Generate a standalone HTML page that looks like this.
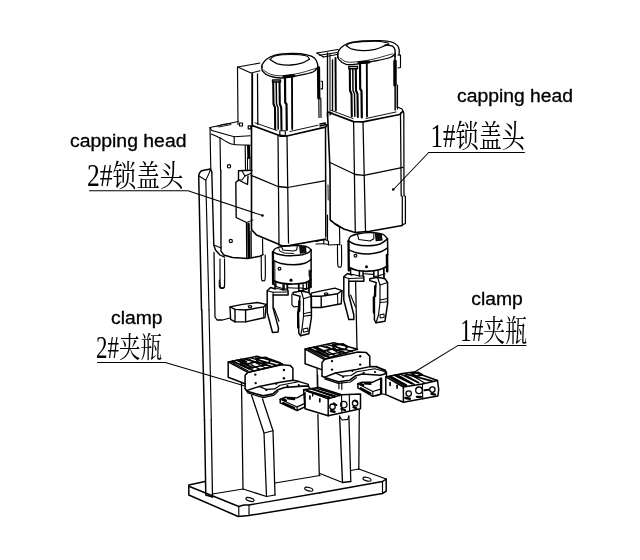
<!DOCTYPE html>
<html><head><meta charset="utf-8"><title>Capping head and clamp</title>
<style>
html,body{margin:0;padding:0;background:#fff;}
svg{display:block;will-change:transform}
.en{font-family:"Liberation Sans",sans-serif;fill:#000;stroke:#000;stroke-width:0.3px}
.cn{font-family:"Liberation Serif","Noto Serif CJK SC",serif;fill:#000}
</style></head>
<body>
<svg width="640" height="560" viewBox="0 0 640 560">
<rect width="640" height="560" fill="#fff"/>
<g fill="none" stroke="#000" stroke-width="1.15" stroke-linecap="round" stroke-linejoin="round">
<path d="M89.5 190.7 L188.0 190.7 L262.5 215.5" stroke-width="1.03"/>
<path d="M428.7 152.5 L524.5 152.5" stroke-width="1.03"/>
<path d="M428.7 152.5 L393.5 189.5" stroke-width="1.03"/>
<path d="M97.4 362.4 L165.3 362.4 L245.0 386.0" stroke-width="1.03"/>
<path d="M457.8 345.6 L526.0 345.6" stroke-width="1.03"/>
<path d="M457.8 345.6 L413.0 373.0" stroke-width="1.03"/>
<path d="M238.0 124.5 L237.5 67.0 L260.0 63.0"/>
<path d="M237.5 67.0 L251.0 73.0 L260.0 70.8"/>
<path d="M252.2 73.8 L252.2 126.2" stroke-width="1.84"/>
<path d="M257.5 74.0 L257.8 124.5" stroke-width="1.26"/>
<path d="M239.5 123.0 L242.5 123.0 L242.5 126.0 L239.5 126.0 Z"/>
<path d="M248.2 125.8 L250.8 125.8 L250.8 128.8 L248.2 128.8 Z"/>
<path d="M262.0 67.5 C262.0 67.1 261.3 66.3 262.0 65.0 C262.7 63.7 264.1 61.1 266.2 59.5 C268.4 57.9 270.8 56.2 275.0 55.2 C279.2 54.2 285.9 53.6 291.2 53.5 C296.6 53.4 303.1 54.0 307.0 54.8 C310.9 55.5 312.8 56.5 314.5 58.0 C316.2 59.5 316.9 61.8 317.5 63.8 C318.1 65.8 317.9 69.0 318.0 70.0" stroke-width="1.32"/>
<path d="M270.0 59.5 C270.8 58.9 271.5 56.8 275.0 56.0 C278.5 55.2 286.1 54.5 291.2 54.5 C296.4 54.5 302.7 55.0 305.8 55.8 C308.8 56.5 308.9 58.7 309.5 59.2" stroke-width="1.03"/>
<path d="M270.0 59.5 C271.2 60.2 274.0 62.8 277.5 63.8 C281.0 64.7 287.1 65.2 291.2 65.0 C295.4 64.8 299.5 63.7 302.5 62.8 C305.5 61.8 308.3 59.8 309.5 59.2" stroke-width="1.26"/>
<path d="M262.0 65.8 C262.1 66.7 261.2 69.5 262.5 71.2 C263.8 73.0 266.7 75.1 270.0 76.2 C273.3 77.4 277.5 78.2 282.5 78.0 C287.5 77.8 294.9 76.2 300.0 75.2 C305.1 74.2 310.1 73.3 313.0 72.0 C315.9 70.7 316.8 68.2 317.5 67.5" stroke-width="1.32"/>
<path d="M263.5 70.0 C264.7 70.7 267.3 73.3 270.5 74.2 C273.7 75.2 277.6 76.0 282.5 75.8 C287.4 75.5 294.5 74.2 300.0 73.0 C305.5 71.8 312.9 69.2 315.5 68.5" stroke-width="0.805"/>
<path d="M272.5 80.0 L280.5 80.0 L280.5 82.0 L272.5 82.0 Z" stroke-width="1.38"/>
<path d="M273.2 82.0 L273.5 104.0 L275.0 107.5 L275.2 129.0" stroke-width="2.07"/>
<path d="M276.2 82.0 L276.5 104.0 L278.0 107.5 L278.2 129.0" stroke-width="1.49"/>
<path d="M279.5 82.0 L279.8 104.0 L281.2 107.5 L281.5 129.5" stroke-width="2.07"/>
<path d="M285.0 77.5 L285.2 102.5 L286.5 104.2 L286.8 130.0" stroke-width="2.18"/>
<path d="M292.0 77.5 L292.2 129.0" stroke-width="1.84"/>
<path d="M283.8 76.5 L294.0 75.8" stroke-width="2.88"/>
<path d="M252.5 125.6 L278.0 135.0 L287.0 136.0 L325.3 127.2 L327.3 124.8" stroke-width="1.72"/>
<path d="M255.0 122.8 L277.0 130.5" stroke-width="0.92"/>
<path d="M290.0 131.5 L318.0 125.2" stroke-width="0.92"/>
<path d="M279.8 130.7 L285.3 130.7 L285.3 136.5 L279.8 136.5 Z"/>
<path d="M210.0 127.5 L238.2 121.5"/>
<path d="M210.0 127.5 L211.8 130.5 L234.2 136.8 L250.2 135.8"/>
<path d="M217.0 126.5 L222.5 124.5 L230.5 123.5" stroke-width="0.92"/>
<path d="M219.0 127.0 L231.0 124.5" stroke-width="0.92"/>
<path d="M210.0 127.5 L210.8 170.0"/>
<path d="M234.2 136.8 L234.2 144.5"/>
<path d="M211.0 134.0 C212.5 134.6 217.1 136.4 219.8 137.8 C222.4 139.1 224.6 140.9 227.0 142.0 C229.4 143.1 230.4 144.0 234.2 144.5 C238.1 145.0 247.6 145.1 250.2 145.2"/>
<path d="M220.0 138.0 L220.5 170.0"/>
<path d="M245.2 145.5 L245.5 170.0"/>
<path d="M248.5 146.2 L248.8 157.5" stroke-width="2.99"/>
<path d="M247.5 157.5 L247.5 169.5" stroke-width="1.03"/>
<path d="M250.0 157.5 L250.0 169.5" stroke-width="1.03"/>
<path d="M337.8 57.5 C337.8 56.8 337.2 54.7 337.8 53.0 C338.3 51.3 339.4 49.1 341.2 47.5 C343.1 45.9 345.2 44.2 348.8 43.1 C352.3 42.0 357.3 41.4 362.5 41.0 C367.7 40.6 375.2 40.5 380.0 40.6 C384.8 40.8 388.3 41.0 391.2 41.9 C394.2 42.7 396.2 44.3 397.5 45.6 C398.8 47.0 399.0 48.4 399.2 50.0 C399.5 51.6 399.0 54.2 399.0 55.0" stroke-width="1.32"/>
<path d="M346.2 45.6 C346.9 45.2 347.3 43.9 350.0 43.2 C352.7 42.6 357.5 42.0 362.5 41.8 C367.5 41.5 375.6 41.2 380.0 41.5 C384.4 41.8 387.3 43.0 388.8 43.2" stroke-width="1.03"/>
<path d="M385.0 45.0 C386.2 45.2 390.8 45.4 392.5 46.2 C394.2 47.1 394.6 48.2 395.0 50.0 C395.4 51.8 395.0 55.6 395.0 56.8" stroke-width="1.38"/>
<path d="M346.2 45.6 C347.1 46.1 348.5 47.9 351.2 48.8 C354.0 49.6 358.5 50.5 362.5 50.6 C366.5 50.7 371.5 50.1 375.0 49.4 C378.5 48.6 381.5 47.1 383.8 46.2 C386.0 45.4 387.9 44.4 388.8 44.0" stroke-width="1.26"/>
<path d="M337.8 53.1 C337.9 54.2 337.3 57.5 338.8 59.4 C340.2 61.2 342.9 63.6 346.2 64.4 C349.6 65.1 354.2 64.3 358.8 63.8 C363.3 63.2 368.5 62.3 373.8 61.2 C379.0 60.2 386.5 58.8 390.0 57.5 C393.5 56.2 394.2 54.4 395.0 53.8" stroke-width="1.32"/>
<path d="M340.0 58.0 C341.2 58.7 343.9 61.4 347.0 62.0 C350.1 62.6 354.3 62.0 358.8 61.5 C363.2 61.0 368.1 60.3 373.8 59.0 C379.4 57.7 389.4 54.6 392.5 53.8" stroke-width="0.805"/>
<path d="M335.5 58.0 L335.8 110.5" stroke-width="1.95"/>
<path d="M332.5 60.0 L332.5 110.5" stroke-width="1.38"/>
<path d="M348.8 66.5 L357.5 66.5 L357.5 68.8 L348.8 68.8 Z" stroke-width="1.38"/>
<path d="M349.8 68.8 L350.0 90.5 L351.5 94.0 L351.8 116.2" stroke-width="2.07"/>
<path d="M352.8 68.8 L353.0 90.5 L354.5 94.0 L354.8 116.2" stroke-width="1.49"/>
<path d="M355.8 68.8 L356.0 90.5 L357.5 94.0 L357.8 117.0" stroke-width="2.07"/>
<path d="M360.0 63.5 L360.2 89.0 L361.5 90.8 L361.8 117.5" stroke-width="2.18"/>
<path d="M366.8 63.2 L367.0 116.5" stroke-width="1.84"/>
<path d="M358.8 62.8 L369.0 62.0" stroke-width="2.88"/>
<path d="M395.0 55.0 L395.2 110.0" stroke-width="1.49"/>
<path d="M395.0 61.2 L395.0 85.0" stroke-width="3.45"/>
<path d="M397.5 85.0 L397.5 109.0"/>
<path d="M398.0 55.0 L400.5 55.0 L400.5 67.5 L398.0 68.0"/>
<path d="M397.0 87.0 L397.0 107.5" stroke-width="0.805"/>
<path d="M331.0 110.3 L353.0 118.5" stroke-width="0.92"/>
<path d="M366.0 118.5 L396.0 112.0" stroke-width="0.92"/>
<path d="M328.6 112.2 L353.6 121.6 L363.0 121.9 L399.7 114.5 L402.8 111.4" stroke-width="1.72"/>
<path d="M317.0 53.0 L337.8 49.5" stroke-width="1.26"/>
<path d="M319.5 55.2 L337.0 52.5" stroke-width="1.03"/>
<path d="M323.5 57.0 L337.0 54.5"/>
<path d="M317.0 53.0 L323.5 57.0" stroke-width="1.26"/>
<path d="M318.5 67.5 L318.8 98.0" stroke-width="3.22"/>
<path d="M318.8 98.0 L319.0 117.5"/>
<path d="M320.8 98.0 L321.0 117.5"/>
<path d="M321.0 81.2 L322.5 81.2 L322.5 88.8 L321.0 88.8"/>
<path d="M327.5 53.0 L327.5 116.2" stroke-width="1.38"/>
<path d="M330.0 54.0 L330.0 115.0 L332.0 112.5" stroke-width="1.03"/>
<path d="M320.0 126.0 L326.2 124.5" stroke-width="1.38"/>
<path d="M320.0 124.0 L325.5 123.0" stroke-width="1.49"/>
<path d="M201.5 310.0 L198.7 175.5 L199.5 173.0 L201.5 170.8 L210.4 168.9 L211.8 172.2" stroke-width="1.49"/>
<path d="M205.8 180.2 L209.0 310.0"/>
<path d="M199.1 176.0 L205.8 180.2 L209.5 172.2 L210.4 169.0" stroke-width="1.03"/>
<path d="M211.8 172.2 L213.8 245.0 L215.5 250.0 L220.0 255.0 L224.5 257.2" stroke-width="1.38"/>
<path d="M213.8 245.0 L221.2 248.0" stroke-width="1.03"/>
<path d="M214.0 252.5 L215.0 317.0 L217.0 320.0 L222.5 320.0 L230.0 318.0" stroke-width="1.26"/>
<path d="M220.8 170.0 L221.0 251.2 L223.8 255.0 L232.5 257.5 L247.5 258.5 L260.0 256.2 L263.0 254.5" stroke-width="1.38"/>
<path d="M252.0 170.2 L238.5 170.8 L238.5 180.0 L247.5 184.5 L248.0 176.0" stroke-width="1.38"/>
<path d="M238.5 180.0 L235.8 182.5 L236.2 217.5 L246.5 222.5 L246.8 258.0" stroke-width="1.38"/>
<path d="M242.0 171.0 L245.0 176.0 L251.5 173.0"/>
<path d="M245.0 176.0 L242.0 180.0 L238.5 180.0" stroke-width="1.03"/>
<path d="M251.5 127.0 L251.5 229.5 L256.5 235.0 L277.0 243.5 L282.0 246.0 L289.0 245.6 L325.8 239.0" stroke-width="1.61"/>
<path d="M246.5 222.5 L253.0 220.0" stroke-width="0.92"/>
<path d="M248.5 223.8 L249.0 257.5" stroke-width="2.53"/>
<path d="M251.0 231.2 L251.2 257.5" stroke-width="1.38"/>
<path d="M262.5 239.0 L262.8 255.0"/>
<path d="M220.0 259.0 C220.0 263.3 219.9 280.2 220.2 285.0 C220.6 289.8 221.5 287.5 222.2 287.5 C223.0 287.5 224.1 289.8 224.5 285.0 C224.9 280.2 224.5 263.3 224.5 259.0"/>
<path d="M261.2 255.5 C261.3 259.2 261.2 273.8 261.5 278.0 C261.8 282.2 262.6 280.5 263.2 280.5 C263.9 280.5 264.9 282.2 265.2 278.0 C265.6 273.8 265.2 258.8 265.2 255.0"/>
<path d="M251.0 175.3 L278.0 186.5 L287.5 187.5 L325.5 180.6" stroke-width="1.26"/>
<path d="M272.9 251.9 L273.1 283.8" stroke-width="2.3"/>
<path d="M274.8 261.2 L274.9 281.2" stroke-width="0.92"/>
<path d="M311.1 250.0 L311.1 271.2" stroke-width="1.49"/>
<path d="M310.5 271.2 L310.6 286.9" stroke-width="2.53"/>
<path d="M309.1 270.0 L309.1 276.2" stroke-width="0.92"/>
<path d="M273.1 251.9 C273.8 252.2 275.3 253.4 277.2 254.0 C279.2 254.6 282.0 255.1 284.8 255.4 C287.5 255.6 290.6 255.7 293.5 255.6 C296.4 255.5 299.9 255.2 302.2 254.8 C304.6 254.3 306.4 253.7 307.9 252.9 C309.4 252.1 310.6 250.5 311.1 250.0" stroke-width="1.49"/>
<path d="M273.1 251.9 C273.4 251.4 273.9 249.8 274.8 249.0 C275.6 248.2 277.1 247.7 278.5 247.2 C279.9 246.8 282.1 246.4 282.9 246.2" stroke-width="1.38"/>
<path d="M282.9 246.2 C284.6 246.1 290.1 245.5 293.5 245.5 C296.9 245.5 301.0 245.7 303.5 246.0 C306.0 246.3 307.2 246.8 308.5 247.5 C309.8 248.2 310.7 249.6 311.1 250.0" stroke-width="1.38"/>
<path d="M281.6 246.9 L282.9 250.0 L293.5 251.0 L296.6 250.0 L297.2 246.9"/>
<path d="M278.5 247.5 L279.8 251.2 L284.8 253.1 L293.5 253.5" stroke-width="0.92"/>
<path d="M299.8 246.9 L305.4 246.9 L306.0 252.5 L300.4 253.1 Z" fill="#111"/>
<path d="M273.5 260.4 C274.8 260.9 277.7 262.8 281.0 263.5 C284.3 264.2 289.5 264.8 293.5 264.8 C297.5 264.7 301.8 264.1 304.8 263.2 C307.7 262.4 310.1 260.1 311.1 259.5" stroke-width="1.49"/>
<path d="M273.5 280.6 C274.8 281.1 277.7 282.7 281.0 283.2 C284.3 283.8 289.5 284.1 293.5 284.0 C297.5 283.9 301.8 283.5 304.8 282.8 C307.7 282.0 310.1 280.2 311.1 279.8" stroke-width="1.72"/>
<path d="M276.0 282.2 L276.0 286.5"/>
<path d="M284.1 283.8 L284.1 289.0" stroke-width="1.38"/>
<path d="M287.2 284.2 L287.2 289.0" stroke-width="1.38"/>
<path d="M298.5 284.0 L298.5 287.8" stroke-width="1.38"/>
<path d="M306.6 282.5 L306.6 288.8" stroke-width="1.38"/>
<path d="M273.1 283.8 L276.0 286.5 L284.1 289.0 L287.2 289.0"/>
<path d="M298.5 287.8 L306.6 288.8 L310.6 286.9"/>
<path d="M327.5 113.0 L330.0 170.0 L330.2 220.0 L335.0 223.8 L343.8 229.0 L355.0 232.5 L370.0 231.2 L402.2 225.5" stroke-width="1.61"/>
<path d="M329.5 162.3 L355.3 174.5 L364.0 175.3 L403.0 167.4" stroke-width="1.26"/>
<path d="M328.0 185.0 L328.2 200.0" stroke-width="0.92"/>
<path d="M335.0 224.0 L339.5 227.0 L339.8 245.0"/>
<path d="M337.5 245.0 C337.5 248.2 337.4 260.8 337.8 264.5 C338.1 268.2 338.9 267.0 339.5 267.0 C340.1 267.0 341.2 268.2 341.5 264.5 C341.8 260.8 341.5 248.2 341.5 245.0"/>
<path d="M348.5 241.0 L348.8 270.5" stroke-width="2.3"/>
<path d="M387.5 238.8 L387.8 255.0" stroke-width="1.49"/>
<path d="M387.0 255.0 L387.2 271.2" stroke-width="2.53"/>
<path d="M348.5 241.0 C349.6 241.5 351.8 243.5 355.0 244.2 C358.2 245.0 363.3 245.8 367.5 245.8 C371.7 245.7 376.7 245.2 380.0 244.0 C383.3 242.8 386.2 239.6 387.5 238.8" stroke-width="1.49"/>
<path d="M348.5 241.0 C348.8 240.2 349.0 237.7 350.5 236.5 C352.0 235.3 354.2 234.7 357.5 234.0 C360.8 233.3 365.8 232.5 370.0 232.5 C374.2 232.5 379.6 233.2 382.5 234.2 C385.4 235.3 386.7 238.0 387.5 238.8" stroke-width="1.38"/>
<path d="M357.5 234.5 L358.8 239.5 L370.0 241.0 L373.8 238.8 L373.8 233.8" stroke-width="1.03"/>
<path d="M375.5 233.8 L381.2 234.2 L382.0 240.0 L376.2 240.8 Z" fill="#111"/>
<path d="M349.0 250.0 C350.4 250.5 354.2 252.3 357.5 253.0 C360.8 253.7 365.0 254.2 368.8 254.0 C372.5 253.8 376.9 253.0 380.0 252.0 C383.1 251.0 386.2 248.7 387.5 248.0" stroke-width="1.49"/>
<path d="M349.0 267.5 C350.4 268.0 354.2 269.9 357.5 270.5 C360.8 271.1 365.0 271.4 368.8 271.2 C372.5 271.1 376.9 270.3 380.0 269.5 C383.1 268.7 386.2 266.8 387.5 266.2" stroke-width="1.72"/>
<path d="M350.6 268.1 L350.6 274.0" stroke-width="1.38"/>
<path d="M359.4 270.6 L359.4 276.0" stroke-width="1.49"/>
<path d="M363.1 271.0 L363.1 276.0" stroke-width="1.49"/>
<path d="M373.8 270.6 L373.8 276.5" stroke-width="1.49"/>
<path d="M378.1 270.6 L378.1 276.0" stroke-width="1.38"/>
<path d="M350.6 274.0 L359.4 276.0 L363.1 276.0"/>
<path d="M363.1 273.8 L373.8 274.4"/>
<path d="M373.8 276.5 L378.1 276.0 L385.0 273.8"/>
<path d="M383.8 268.8 L384.0 277.5" stroke-width="1.72"/>
<path d="M351.9 275.0 L347.5 273.5 L343.8 276.9 L343.8 300.0 L348.8 319.5 L353.8 319.5 L353.8 315.0 L348.8 295.0 L348.8 281.2 L363.8 281.2 L363.8 276.5" stroke-width="1.49"/>
<path d="M343.8 276.9 L348.8 278.5 L348.8 281.2" stroke-width="1.03"/>
<path d="M348.8 278.5 L363.1 278.1" stroke-width="1.03"/>
<path d="M350.6 295.0 L355.4 306.9"/>
<path d="M355.6 281.2 L357.0 349.0" stroke-width="1.26"/>
<path d="M369.8 278.8 L377.5 277.2 L385.0 278.8 L387.6 282.5 L387.6 303.8 L385.0 321.2 L376.0 322.8 L374.4 320.0 L374.4 296.2 L376.2 282.5 L369.8 280.6 Z" stroke-width="1.49"/>
<path d="M377.5 277.2 L380.0 285.0 L387.6 282.5"/>
<path d="M380.0 285.0 L380.0 302.5 L378.5 315.0 L376.0 322.8"/>
<path d="M375.2 286.2 L375.1 296.2" stroke-width="2.3"/>
<path d="M373.8 297.5 L373.9 312.5" stroke-width="2.3"/>
<path d="M380.0 300.0 L387.6 298.5"/>
<path d="M380.0 302.5 L387.6 301.8"/>
<path d="M380.0 314.8 L384.0 314.0 L384.2 317.2 L380.2 318.0 Z" stroke-width="1.03"/>
<path d="M275.0 281.9 L275.0 287.8" stroke-width="1.38"/>
<path d="M283.1 284.8 L283.1 290.0" stroke-width="1.49"/>
<path d="M287.5 285.0 L287.5 290.0" stroke-width="1.49"/>
<path d="M298.8 284.8 L298.8 290.5" stroke-width="1.49"/>
<path d="M303.1 284.8 L303.1 290.5" stroke-width="1.38"/>
<path d="M275.0 287.8 L283.1 290.0 L287.5 290.0"/>
<path d="M287.5 287.8 L298.8 288.2"/>
<path d="M298.8 290.5 L303.1 290.5 L310.0 287.8"/>
<path d="M308.8 282.5 L309.0 291.9" stroke-width="1.72"/>
<path d="M275.6 289.0 L270.6 287.5 L267.2 290.8 L267.2 312.5 L272.5 332.5 L278.1 332.0 L278.5 328.1 L273.1 308.1 L273.1 295.0 L288.1 295.0 L288.1 290.8" stroke-width="1.49"/>
<path d="M267.2 290.8 L273.1 292.2 L273.1 295.0" stroke-width="1.03"/>
<path d="M273.1 292.2 L287.5 292.0" stroke-width="1.03"/>
<path d="M274.0 308.1 L279.0 321.2"/>
<path d="M293.1 292.5 L301.2 291.0 L308.8 292.5 L311.4 296.2 L311.4 317.5 L308.8 333.8 L300.6 335.8 L298.8 333.1 L298.1 311.2 L300.0 296.2 L293.1 294.4 Z" stroke-width="1.49"/>
<path d="M301.2 291.0 L303.5 298.8 L311.4 296.2"/>
<path d="M303.5 298.8 L303.5 316.2 L302.0 328.8 L300.6 335.8"/>
<path d="M299.5 301.2 L299.2 311.2" stroke-width="2.3"/>
<path d="M298.1 312.5 L298.2 327.5" stroke-width="2.3"/>
<path d="M303.5 313.8 L311.4 312.0"/>
<path d="M303.5 316.2 L311.4 315.1"/>
<path d="M303.1 329.0 L307.8 328.1 L308.1 331.2 L303.5 332.2 Z" stroke-width="1.03"/>
<path d="M291.9 294.0 L291.9 304.8 L294.0 306.9 L298.5 306.5"/>
<path d="M228.2 361.9 L257.0 356.2 L282.4 364.0 L247.9 372.4 Z" stroke-width="1.49"/>
<path d="M228.2 361.9 L228.2 377.3 L245.1 383.7" stroke-width="1.49"/>
<path d="M232.4 361.2 L249.3 368.9" stroke-width="1.84"/>
<path d="M236.7 360.2 L252.8 367.8" stroke-width="1.84"/>
<path d="M240.9 359.3 L246.5 361.9" stroke-width="1.84"/>
<path d="M245.1 359.1 L270.4 366.1" stroke-width="1.72"/>
<path d="M250.7 357.9 L276.0 365.0" stroke-width="1.38"/>
<path d="M256.3 358.4 L266.2 357.4 L270.4 359.8 L269.0 362.6 L260.6 363.3 L257.0 361.2 Z" stroke-width="1.72"/>
<path d="M247.2 364.0 L255.6 361.9" stroke-width="1.72"/>
<path d="M249.3 368.2 L266.2 364.7" stroke-width="1.38"/>
<path d="M270.4 359.1 L280.2 362.6" stroke-width="1.49"/>
<path d="M245.1 388.6 L245.1 375.2 L247.9 372.4 L281.7 364.7 L290.1 365.4 L292.9 368.2 L292.9 380.2" stroke-width="1.49"/>
<path d="M245.1 388.6 L247.2 391.4 L263.4 395.9 L273.2 393.7 L277.4 390.0 L284.5 387.5 L302.8 386.1 L308.4 386.1 L310.1 388.9" stroke-width="1.61"/>
<path d="M247.2 392.8 L263.4 397.6 L274.1 395.1 L278.1 391.4"/>
<path d="M247.2 390.3 L259.2 386.5 L280.2 382.3 L292.9 380.2 L298.5 381.3 L308.4 384.4 L308.4 386.3" stroke-width="1.38"/>
<path d="M259.2 386.5 L266.2 389.4 L274.6 388.9 L280.2 385.2 L298.5 381.8"/>
<path d="M280.2 399.3 L284.8 397.3 L297.1 397.9 L304.9 393.5" stroke-width="1.38"/>
<path d="M280.2 399.3 L280.2 402.9 L297.1 410.5 L305.0 406.9 L305.0 392.8" stroke-width="1.49"/>
<path d="M280.2 399.3 L297.1 406.9 L297.1 410.5"/>
<path d="M297.1 406.9 L305.0 403.4"/>
<path d="M283.1 399.1 L285.9 400.5" stroke-width="2.3"/>
<path d="M288.0 398.4 L294.3 399.0" stroke-width="2.3"/>
<path d="M283.1 402.9 L294.3 408.0" stroke-width="2.07"/>
<path d="M219.4 280.0 C219.4 281.2 219.1 285.8 219.5 287.2 C219.9 288.7 221.1 288.5 221.9 288.5 C222.7 288.5 224.0 288.7 224.4 287.2 C224.8 285.8 224.4 281.2 224.4 280.0"/>
<path d="M230.0 306.9 L242.5 304.4 L257.5 302.5 L266.2 304.4 L263.8 306.9 L245.6 310.0 L235.0 309.4 Z" stroke-width="1.38"/>
<path d="M230.0 306.9 L230.6 319.4 L235.0 321.9 L235.0 309.4" stroke-width="1.38"/>
<path d="M235.0 321.9 L245.6 321.9 L245.6 310.0" stroke-width="1.38"/>
<path d="M245.6 321.9 L265.0 317.5 L266.2 304.4" stroke-width="1.38"/>
<path d="M263.5 306.9 L263.8 317.8" stroke-width="1.03"/>
<path d="M311.2 293.2 L322.5 290.6 L335.0 288.1 L342.0 290.6 L337.5 293.8 L321.2 296.2 L311.2 296.2 Z" stroke-width="1.38"/>
<path d="M311.2 296.2 L311.2 307.5 L321.2 307.5 L321.2 296.5" stroke-width="1.38"/>
<path d="M321.2 307.5 L341.2 303.8 L342.0 290.6" stroke-width="1.38"/>
<path d="M337.5 293.8 L337.8 304.4" stroke-width="1.03"/>
<path d="M305.1 349.1 L334.0 342.7 L357.5 349.3 L323.7 359.2 Z" stroke-width="1.49"/>
<path d="M305.1 349.1 L305.1 363.8 L321.6 369.6" stroke-width="1.49"/>
<path d="M309.4 348.4 L325.5 356.1" stroke-width="1.84"/>
<path d="M313.6 347.4 L329.0 354.7" stroke-width="1.84"/>
<path d="M321.3 346.0 L346.6 353.0" stroke-width="1.72"/>
<path d="M327.2 344.6 L352.2 351.3" stroke-width="1.38"/>
<path d="M332.8 345.1 L343.1 344.0 L347.3 346.5 L345.5 349.3 L337.1 350.2 L333.7 347.9 Z" stroke-width="1.84"/>
<path d="M324.1 350.8 L332.6 348.8" stroke-width="1.72"/>
<path d="M326.2 355.4 L343.1 351.6" stroke-width="1.38"/>
<path d="M322.0 376.1 L322.0 362.4 L324.8 359.2 L357.9 351.9 L366.3 352.6 L369.8 356.1 L369.8 366.6" stroke-width="1.49"/>
<path d="M322.0 376.1 L324.8 377.5 L338.2 381.7 L349.4 380.3 L355.1 376.1 L362.1 374.0 L380.4 375.2 L385.4 373.8 L385.4 370.2 L376.2 366.8 L369.8 366.6" stroke-width="1.61"/>
<path d="M324.8 377.2 L335.4 373.0 L356.5 369.5 L369.8 366.6" stroke-width="1.38"/>
<path d="M335.4 373.0 L342.4 376.1 L351.1 375.5 L356.8 371.8 L374.8 368.8 L385.4 371.8"/>
<path d="M324.8 378.9 L338.2 383.4 L350.3 382.0 L356.5 377.5"/>
<path d="M317.1 368.2 L317.4 387.3" stroke-width="1.26"/>
<path d="M338.9 382.0 L338.9 388.7"/>
<path d="M341.8 382.2 L341.8 389.3"/>
<path d="M357.9 383.7 L362.1 382.1 L372.8 382.2 L380.4 378.6" stroke-width="1.38"/>
<path d="M357.9 383.7 L357.9 387.9 L372.8 396.3 L380.7 394.1 L380.7 377.9" stroke-width="1.49"/>
<path d="M357.9 383.7 L372.8 391.5 L372.8 396.3"/>
<path d="M372.8 391.5 L380.7 389.1"/>
<path d="M360.7 383.9 L363.2 385.1" stroke-width="2.3"/>
<path d="M364.9 383.4 L370.5 383.9" stroke-width="2.3"/>
<path d="M360.7 388.2 L370.5 393.5" stroke-width="2.07"/>
<path d="M303.6 389.8 L319.0 387.4 L341.5 394.7 L328.2 398.9 Z" stroke-width="1.49"/>
<path d="M303.6 389.8 L305.0 408.8 L328.2 415.8 L328.2 398.9" stroke-width="1.49"/>
<path d="M328.2 415.8 L347.9 411.6 L360.5 408.8 L360.5 394.0 L341.5 394.7" stroke-width="1.49"/>
<path d="M341.5 394.7 L341.8 412.3"/>
<path d="M349.3 394.4 L349.6 410.9"/>
<path d="M307.1 390.8 L329.6 397.5" stroke-width="2.07"/>
<path d="M312.0 389.1 L335.2 396.1" stroke-width="1.72"/>
<path d="M316.2 388.4 L339.4 395.1" stroke-width="1.38"/>
<path d="M309.9 396.1 L309.9 398.9" stroke-width="1.72"/>
<path d="M319.8 398.9 L319.8 401.7" stroke-width="1.72"/>
<path d="M312.7 393.3 L312.7 396.1" stroke-width="1.38"/>
<path d="M331.0 410.9 L334.5 411.8" stroke-width="2.53"/>
<path d="M341.5 408.8 L345.1 410.2" stroke-width="2.3"/>
<path d="M353.5 407.1 L356.3 408.2" stroke-width="2.3"/>
<path d="M333.8 403.1 L336.6 405.2" stroke-width="1.72"/>
<path d="M354.9 400.3 L357.0 402.0" stroke-width="1.72"/>
<path d="M317.6 375.0 L317.8 388.4" stroke-width="1.26"/>
<path d="M339.9 417.2 L342.2 420.0 L347.9 419.4 L348.7 416.1"/>
<path d="M385.8 376.9 L402.7 373.5 L413.7 372.0 L437.5 380.5 L422.4 383.9 L403.4 387.0 Z" stroke-width="1.49"/>
<path d="M385.8 376.9 L385.8 394.6 L403.4 402.2 L403.4 387.0" stroke-width="1.49"/>
<path d="M403.4 402.2 L422.4 398.8 L437.9 396.0 L438.7 389.5 L437.5 380.5" stroke-width="1.49"/>
<path d="M422.4 383.9 L422.7 398.8"/>
<path d="M390.1 376.6 L406.2 385.3" stroke-width="2.3"/>
<path d="M395.0 375.2 L411.9 383.6" stroke-width="2.07"/>
<path d="M400.6 374.1 L418.2 382.5" stroke-width="1.49"/>
<path d="M406.2 374.1 L432.2 381.1" stroke-width="1.72"/>
<path d="M411.2 373.4 L418.2 372.4 L422.4 374.8 L416.8 376.2 Z" stroke-width="1.72"/>
<path d="M390.1 382.5 L390.1 385.3" stroke-width="1.72"/>
<path d="M397.1 385.3 L397.1 388.1" stroke-width="1.72"/>
<path d="M405.5 398.0 L409.8 398.7" stroke-width="2.53"/>
<path d="M416.8 396.8 L421.0 396.8" stroke-width="2.3"/>
<path d="M431.5 393.8 L435.1 394.6" stroke-width="2.3"/>
<path d="M424.5 390.2 L428.7 389.8" stroke-width="2.07"/>
<path d="M376.0 366.3 L386.5 372.0 L386.5 376.9" stroke-width="1.38"/>
<path d="M381.6 378.3 L381.6 393.8 L376.0 395.9" stroke-width="1.38"/>
<path d="M385.8 394.6 L381.6 393.8"/>
<path d="M205.0 481.5 L188.8 485.0 L188.8 495.0 L238.2 516.5 L249.0 515.5 L320.0 504.0" stroke-width="1.49"/>
<path d="M189.5 486.5 L238.8 506.5 L243.8 505.0 L249.0 505.0 L320.0 492.8" stroke-width="1.38"/>
<path d="M238.8 506.5 L238.8 516.5"/>
<path d="M249.0 505.0 L249.0 515.5"/>
<path d="M275.0 483.0 L320.0 475.5" stroke-width="1.26"/>
<path d="M204.5 420.0 L205.8 495.0 L212.5 497.0" stroke-width="1.49"/>
<path d="M211.2 420.0 L212.5 497.0" stroke-width="1.26"/>
<path d="M212.5 494.0 L243.0 489.0 L266.5 496.5 L275.0 495.0" stroke-width="1.26"/>
<path d="M320.0 492.8 L382.5 481.5 L386.2 479.0 L386.2 491.2 L382.5 493.5 L320.0 504.0" stroke-width="1.49"/>
<path d="M382.5 481.5 L382.5 493.5"/>
<path d="M358.8 469.0 L386.2 479.0" stroke-width="1.26"/>
<path d="M358.8 469.0 L350.8 470.5" stroke-width="1.26"/>
<path d="M320.0 473.5 L342.5 482.5 L350.8 481.5" stroke-width="1.26"/>
<path d="M201.8 310.0 L204.5 420.0" stroke-width="1.49"/>
<path d="M209.0 310.0 L211.3 420.0"/>
<path d="M241.5 383.0 L243.0 489.0" stroke-width="1.26"/>
<path d="M251.5 395.0 L264.0 433.0 L266.5 496.5" stroke-width="1.26"/>
<path d="M262.5 399.0 L273.0 430.8 L275.0 495.0" stroke-width="1.26"/>
<path d="M264.0 433.0 L273.0 430.8"/>
<path d="M317.9 414.5 L319.3 475.5" stroke-width="1.26"/>
<path d="M339.6 416.0 L342.5 482.5" stroke-width="1.38"/>
<path d="M348.9 416.0 L350.8 481.5" stroke-width="1.26"/>
<path d="M359.3 410.0 L358.8 469.0" stroke-width="1.26"/>
<path d="M278.0 135.0 L279.0 245.0" stroke-width="1.26"/>
<path d="M287.0 136.0 L288.5 243.0" stroke-width="1.26"/>
<path d="M325.5 127.5 L325.8 237.0" stroke-width="1.49"/>
<path d="M353.6 121.6 L355.3 232.5" stroke-width="1.26"/>
<path d="M363.0 121.9 L365.5 231.5" stroke-width="1.26"/>
<path d="M400.5 113.0 L401.2 195.7 L402.3 196.5 L402.3 224.5" stroke-width="1.26"/>
<path d="M397.4 107.0 L402.0 109.0 L403.8 113.0 L404.0 195.7 L405.4 196.5 L405.4 223.5 L402.3 224.8" stroke-width="1.26"/>
<path d="M308.1 349.1 L323.9 357.7" stroke-width="1.38"/>
<path d="M317.1 350.7 L329.1 357.3" stroke-width="1.72"/>
<path d="M316.7 347.2 L325.1 351.8" stroke-width="1.72"/>
<path d="M327.4 351.3 L335.7 355.8" stroke-width="1.38"/>
<path d="M326.0 345.9 L340.9 354.0"/>
<path d="M332.4 344.5 L341.6 349.6" stroke-width="1.38"/>
<path d="M231.2 362.0 L248.0 371.0" stroke-width="1.38"/>
<path d="M240.5 363.8 L253.3 370.7" stroke-width="1.72"/>
<path d="M239.9 360.3 L248.7 365.1" stroke-width="1.72"/>
<path d="M251.0 364.6 L259.9 369.4" stroke-width="1.38"/>
<path d="M249.2 359.2 L265.0 367.7"/>
<path d="M255.6 358.0 L265.4 363.3" stroke-width="1.38"/>
<path d="M311.3 388.6 L334.7 397.3"/>
<path d="M320.0 388.5 L339.6 395.8"/>
<path d="M388.1 376.5 L404.8 386.1" stroke-width="1.38"/>
<path d="M397.5 374.8 L414.2 384.4" stroke-width="1.38"/>
<path d="M404.9 374.8 L418.9 382.9" stroke-width="1.38"/>
<path d="M411.1 375.1 L424.3 382.7"/>
<path d="M316.0 241.5 L324.8 239.5 L328.5 241.2 L328.5 244.5 L323.8 243.8 L323.8 240.6"/>
<path d="M316.0 244.0 L323.8 243.8"/>
<path d="M328.5 245.0 L339.5 244.5"/>
<path d="M327.5 215.0 L327.5 239.4"/>
<circle cx="230.8" cy="241.0" r="1.6" stroke="#000" fill="none"/>
<circle cx="262.5" cy="215.5" r="1.3" fill="#000" stroke="none"/>
<circle cx="279.5" cy="268.8" r="1.4" stroke="#000" fill="none"/>
<circle cx="291.0" cy="280.2" r="1.6" fill="#000" stroke="none"/>
<circle cx="393.2" cy="189.5" r="1.3" fill="#000" stroke="none"/>
<circle cx="355.5" cy="255.8" r="1.4" stroke="#000" fill="none"/>
<circle cx="366.5" cy="266.8" r="1.5" fill="#000" stroke="none"/>
<circle cx="255.3" cy="374.6" r="1.2" fill="#000" stroke="none"/>
<circle cx="255.7" cy="383.1" r="1.2" fill="#000" stroke="none"/>
<circle cx="283.9" cy="370.0" r="1.2" fill="#000" stroke="none"/>
<circle cx="283.9" cy="378.3" r="1.2" fill="#000" stroke="none"/>
<circle cx="266.3" cy="390.1" r="1.1" fill="#000" stroke="none"/>
<circle cx="276.2" cy="383.8" r="1.1" fill="#000" stroke="none"/>
<circle cx="298.8" cy="385.2" r="1.1" fill="#000" stroke="none"/>
<circle cx="287.5" cy="385.9" r="1.1" fill="#000" stroke="none"/>
<ellipse cx="250.0" cy="306.5" rx="1.8" ry="1" stroke="#000" fill="none"/>
<ellipse cx="326.2" cy="293.8" rx="1.8" ry="1" stroke="#000" fill="none"/>
<circle cx="332.0" cy="361.1" r="1.2" fill="#000" stroke="none"/>
<circle cx="332.0" cy="369.6" r="1.2" fill="#000" stroke="none"/>
<circle cx="360.2" cy="356.2" r="1.2" fill="#000" stroke="none"/>
<circle cx="360.2" cy="364.6" r="1.2" fill="#000" stroke="none"/>
<circle cx="343.2" cy="377.0" r="1.1" fill="#000" stroke="none"/>
<circle cx="352.4" cy="371.0" r="1.1" fill="#000" stroke="none"/>
<circle cx="375.0" cy="372.0" r="1.1" fill="#000" stroke="none"/>
<circle cx="363.7" cy="372.8" r="1.1" fill="#000" stroke="none"/>
<circle cx="332.5" cy="406.7" r="2.7" stroke="#000" stroke-width="1.3" fill="none"/>
<circle cx="343.8" cy="404.6" r="3.2" stroke="#000" stroke-width="1.3" fill="none"/>
<circle cx="355.1" cy="403.2" r="2.7" stroke="#000" stroke-width="1.3" fill="none"/>
<circle cx="408.7" cy="393.6" r="2.7" stroke="#000" stroke-width="1.3" fill="none"/>
<circle cx="419.0" cy="390.3" r="3.3" stroke="#000" stroke-width="1.3" fill="none"/>
<circle cx="432.4" cy="389.6" r="2.7" stroke="#000" stroke-width="1.3" fill="none"/>
<ellipse cx="250.0" cy="499.5" rx="4.2" ry="1.7" stroke="#000" fill="none" transform="rotate(15 250.0 499.5)"/>
<ellipse cx="308.8" cy="489.2" rx="4.2" ry="1.7" stroke="#000" fill="none" transform="rotate(15 308.8 489.2)"/>
<ellipse cx="367.0" cy="479.2" rx="4.2" ry="1.7" stroke="#000" fill="none" transform="rotate(15 367.0 479.2)"/>
<circle cx="229" cy="166.3" r="1.7" stroke="#000" fill="none"/>
</g>
<g id="labels">
<text class="en" x="70" y="147.3" font-size="17.5" textLength="116.5" lengthAdjust="spacingAndGlyphs">capping head</text>
<text class="cn" x="87" y="185.6" font-size="30" textLength="96.5" lengthAdjust="spacingAndGlyphs"><tspan font-size="32.5">2#</tspan>锁盖头</text>
<text class="en" x="457" y="101.7" font-size="17.5" textLength="116" lengthAdjust="spacingAndGlyphs">capping head</text>
<text class="cn" x="430.5" y="147.2" font-size="31" textLength="94.5" lengthAdjust="spacingAndGlyphs"><tspan font-size="33.5">1#</tspan>锁盖头</text>
<text class="en" x="111" y="323.5" font-size="17.5" textLength="51.5" lengthAdjust="spacingAndGlyphs">clamp</text>
<text class="cn" x="96" y="357.8" font-size="29" textLength="66" lengthAdjust="spacingAndGlyphs"><tspan font-size="31">2#</tspan>夹瓶</text>
<text class="en" x="471.3" y="304.8" font-size="17.5" textLength="51.5" lengthAdjust="spacingAndGlyphs">clamp</text>
<text class="cn" x="460" y="341.1" font-size="29.5" textLength="67" lengthAdjust="spacingAndGlyphs"><tspan font-size="31.5">1#</tspan>夹瓶</text>
</g>
</svg>
</body></html>
